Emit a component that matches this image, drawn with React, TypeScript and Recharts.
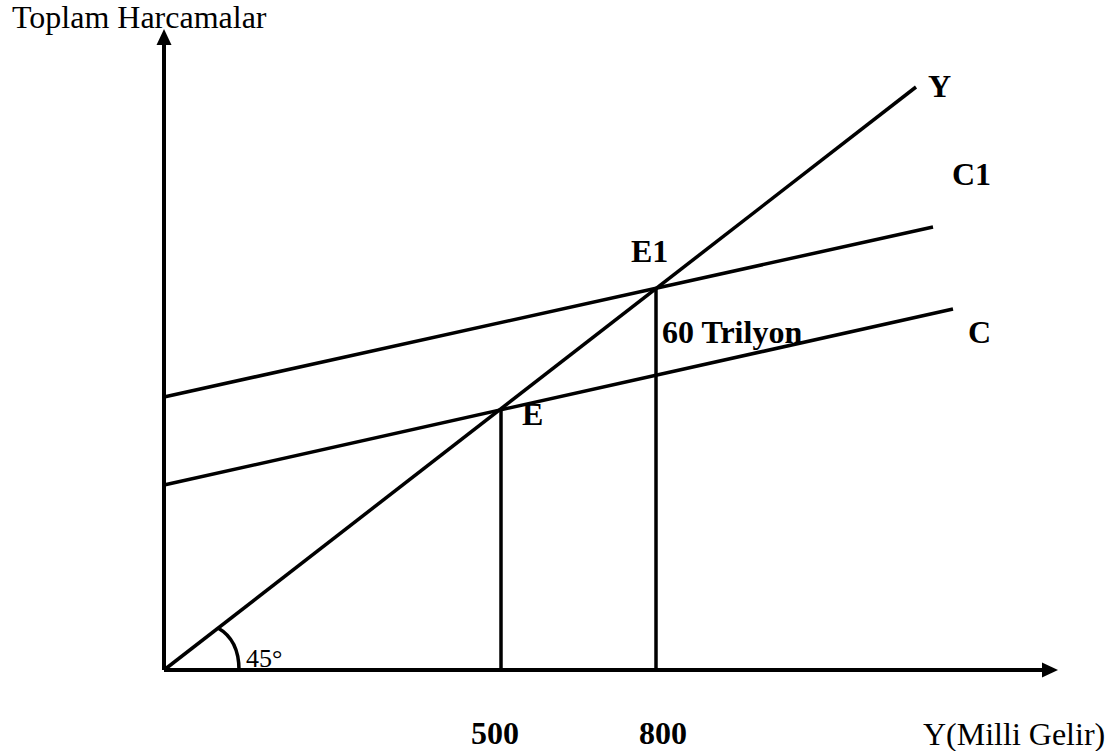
import {
  ComposedChart,
  Line,
  ReferenceDot,
  ReferenceLine,
  XAxis,
  YAxis,
} from "recharts";

// data space: Y (national income) on x, total expenditure on y
const incomeDomain = [0, 894];
const spendingDomain = [0, 641];

const incomeLine = [
  { x: 0, y: 0 },
  { x: 752, y: 583 },
];
const consumptionC = [
  { x: 0, y: 185 },
  { x: 789, y: 361 },
];
const consumptionC1 = [
  { x: 0, y: 273 },
  { x: 769, y: 443 },
];

const equilibriumE = { x: 337, y: 261 };
const equilibriumE1 = { x: 492, y: 382 };

const incomeTicks = [337, 492];
const incomeTickLabels = ["500", "800"];

const FONT = "'Liberation Serif', 'Times New Roman', serif";
const INK = "#000";
const LINE_W = 3.5;

type Note = {
  text: string;
  at: { x: number; y: number };
  dx: number;
  dy: number;
  bold?: boolean;
  size?: number;
};

const NOTES: Note[] = [
  { text: "Toplam Harcamalar", at: { x: 0, y: 641 }, dx: -152, dy: -1, size: 32 },
  { text: "Y(Milli Gelir)", at: { x: 894, y: 0 }, dx: -135, dy: 75, size: 32 },
  { text: "Y", at: incomeLine[1], dx: 12, dy: 10, bold: true },
  { text: "C1", at: consumptionC1[1], dx: 19, dy: -42, bold: true },
  { text: "C", at: consumptionC[1], dx: 15, dy: 34, bold: true },
  { text: "E1", at: equilibriumE1, dx: -25, dy: -26, bold: true },
  { text: "60 Trilyon", at: equilibriumE1, dx: 6, dy: 55, bold: true },
  { text: "E", at: equilibriumE, dx: 21, dy: 16, bold: true },
  { text: "45°", at: { x: 0, y: 0 }, dx: 82, dy: -3, size: 26 },
];

const TICK_SHIFT = [-6, 7];

function ArrowLine(props: any) {
  const { x1, y1, x2, y2 } = props;
  const a = Math.atan2(y2 - y1, x2 - x1);
  const len = 16;
  const half = 7.5;
  const bx = x2 - len * Math.cos(a);
  const by = y2 - len * Math.sin(a);
  const pts = [
    `${x2},${y2}`,
    `${bx + half * Math.sin(a)},${by - half * Math.cos(a)}`,
    `${bx - half * Math.sin(a)},${by + half * Math.cos(a)}`,
  ].join(" ");
  return (
    <g>
      <line x1={x1} y1={y1} x2={bx} y2={by} stroke={INK} strokeWidth={4} />
      <polygon points={pts} fill={INK} />
    </g>
  );
}

function IncomeTick(props: any) {
  const { x, y, index } = props;
  return (
    <text
      x={x + (TICK_SHIFT[index] ?? 0)}
      y={y + 74}
      textAnchor="middle"
      fontFamily={FONT}
      fontWeight="bold"
      fontSize={32}
      fill={INK}
    >
      {incomeTickLabels[index]}
    </text>
  );
}

function AngleArc(props: any) {
  const { cx, cy } = props;
  return (
    <path
      d={`M ${cx + 54} ${cy - 42} C ${cx + 68} ${cy - 34} ${cx + 75} ${cy - 20} ${cx + 75} ${cy}`}
      fill="none"
      stroke={INK}
      strokeWidth={LINE_W}
    />
  );
}

export default function App() {
  return (
    <div
      style={{
        position: "absolute",
        left: 0,
        top: 0,
        width: 1117,
        height: 751,
        background: "#fff",
      }}
    >
      <ComposedChart
        width={1117}
        height={751}
        margin={{ top: 29, right: 59, bottom: 51, left: 164 }}
      >
        <XAxis
          type="number"
          dataKey="x"
          domain={incomeDomain}
          ticks={incomeTicks}
          interval={0}
          axisLine={false}
          tickLine={false}
          tickSize={0}
          tickMargin={0}
          height={30}
          tick={<IncomeTick />}
        />
        <YAxis type="number" dataKey="y" domain={spendingDomain} hide />

        <ReferenceLine
          segment={[
            { x: 0, y: 0 },
            { x: incomeDomain[1], y: 0 },
          ]}
          ifOverflow="visible"
          shape={ArrowLine}
        />
        <ReferenceLine
          segment={[
            { x: 0, y: 0 },
            { x: 0, y: spendingDomain[1] },
          ]}
          ifOverflow="visible"
          shape={ArrowLine}
        />

        <ReferenceLine
          segment={[
            { x: equilibriumE.x, y: 0 },
            equilibriumE,
          ]}
          stroke={INK}
          strokeWidth={LINE_W}
          ifOverflow="visible"
        />
        <ReferenceLine
          segment={[
            { x: equilibriumE1.x, y: 0 },
            equilibriumE1,
          ]}
          stroke={INK}
          strokeWidth={LINE_W}
          ifOverflow="visible"
        />

        <Line
          data={incomeLine}
          dataKey="y"
          stroke={INK}
          strokeWidth={LINE_W}
          dot={false}
          isAnimationActive={false}
        />
        <Line
          data={consumptionC1}
          dataKey="y"
          stroke={INK}
          strokeWidth={LINE_W}
          dot={false}
          isAnimationActive={false}
        />
        <Line
          data={consumptionC}
          dataKey="y"
          stroke={INK}
          strokeWidth={LINE_W}
          dot={false}
          isAnimationActive={false}
        />

        <ReferenceDot
          x={0}
          y={0}
          r={0}
          ifOverflow="visible"
          shape={AngleArc}
        />

        {NOTES.map((n) => (
          <ReferenceDot
            key={n.text}
            x={n.at.x}
            y={n.at.y}
            r={0}
            ifOverflow="visible"
            shape={(p: any) => (
              <text
                x={p.cx + n.dx}
                y={p.cy + n.dy}
                fontFamily={FONT}
                fontWeight={n.bold ? "bold" : "normal"}
                fontSize={n.size ?? 32}
                fill={INK}
              >
                {n.text}
              </text>
            )}
          />
        ))}
      </ComposedChart>
    </div>
  );
}
